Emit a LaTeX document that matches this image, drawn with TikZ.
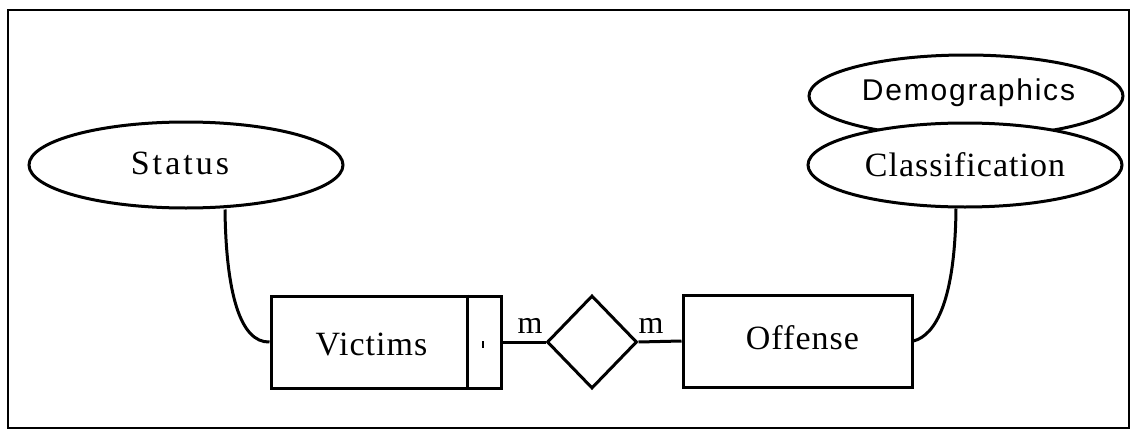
\documentclass[tikz,border=0pt]{standalone}
\usepackage{fontspec}
\setmainfont{Liberation Serif}
\newfontfamily\serifwide[LetterSpace=9]{Liberation Serif}
\newfontfamily\serifsp[LetterSpace=3]{Liberation Serif}
\newfontfamily\sanssp[LetterSpace=6]{Liberation Sans}
\usetikzlibrary{shapes.geometric}
\begin{document}
\begin{tikzpicture}[x=1pt,y=-1pt,line width=3pt,
  attr/.style={draw,ellipse,inner sep=0pt,fill=white},
  entity/.style={draw,rectangle,inner sep=0pt,minimum height=92pt},
  rel/.style={draw,diamond,inner sep=0pt,minimum width=90pt,minimum height=93pt},
  lab/.style={inner sep=0pt,anchor=base,font=\serifsp\fontsize{34}{34}\selectfont},
  card/.style={inner sep=0pt,anchor=base,font=\fontsize{32}{32}\selectfont}]
\useasboundingbox (0,0) rectangle (1136,431);
\draw[line width=2.4pt] (8,10) rectangle (1129,428);
% attributes
\node[attr,minimum width=314pt,minimum height=86pt] (status) at (186,165) {};
\node[lab,font=\serifwide\fontsize{34}{34}\selectfont] (statustxt) at (180,174) {Status};
\node[attr,minimum width=314pt,minimum height=82pt] (demo) at (966,96) {};
\node[inner sep=0pt,anchor=base,font=\sanssp\fontsize{30}{30}\selectfont] (demotxt) at (968.5,100) {Demographics};
\node[attr,minimum width=314pt,minimum height=84pt] (class) at (965,165) {};
\node[lab] (classtxt) at (965,176) {Classification};
% entities
\node[entity,minimum width=230pt] (victims) at (386,342) {};
\node[lab] (victimstxt) at (371.5,355) {Victims};
\draw ([xshift=-35pt]victims.north east) -- ([xshift=-35pt]victims.south east);
\draw[line width=1.6pt] (483,341) -- (483,348);
\node[rel] (rel) at (592,342) {};
\node[entity,minimum width=229pt] (offense) at (797.5,341) {};
\node[lab] (offensetxt) at (802.5,349) {Offense};
% connectors
\draw (victims.east) -- (rel.west);
\draw (rel.east) -- (offense.west);
\node[card] (m1) at (530,333) {m};
\node[card] (m2) at (651,333) {m};
\draw ([xshift=39pt]status.south) .. controls (226,292) and (240,343) .. (victims.west);
\draw ([xshift=-9pt]class.south) .. controls (955,300) and (936,335) .. (offense.east);
\end{tikzpicture}
\end{document}
